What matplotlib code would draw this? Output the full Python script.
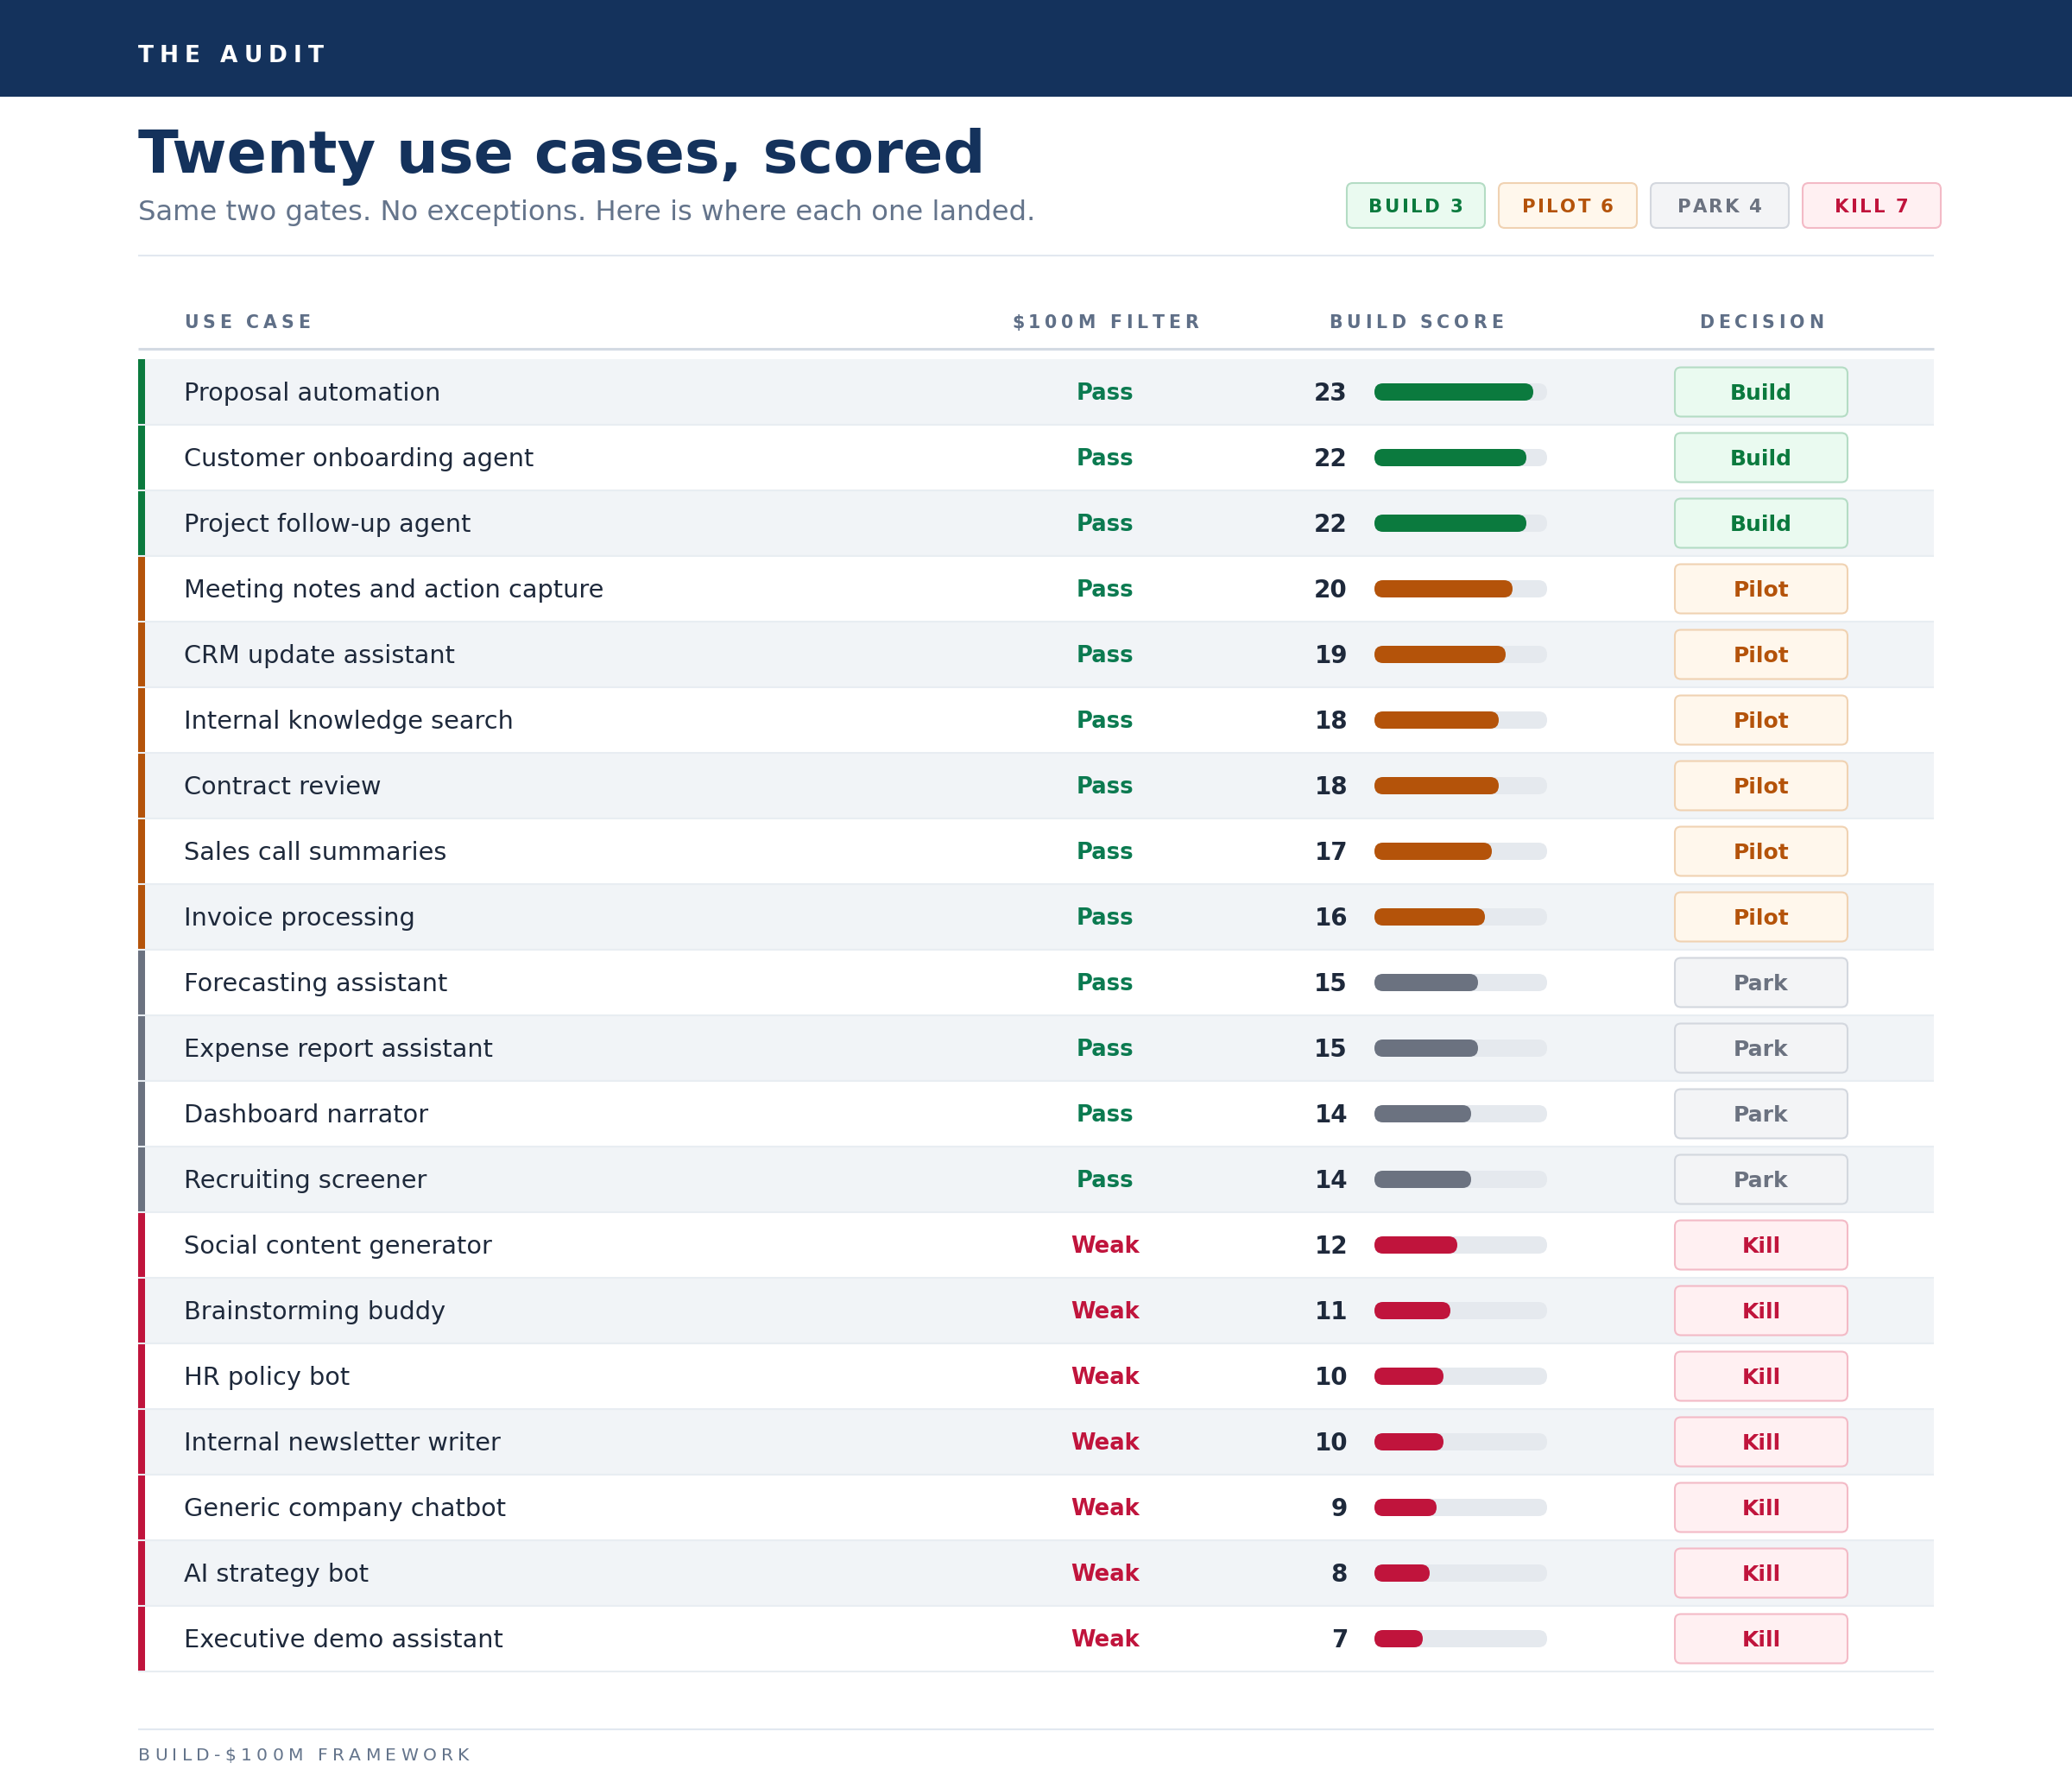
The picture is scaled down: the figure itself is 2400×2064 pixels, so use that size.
import matplotlib
matplotlib.use("Agg")
import matplotlib.pyplot as plt
from matplotlib.patches import FancyBboxPatch, Rectangle
from matplotlib.font_manager import FontProperties

# ---------------- data ----------------
use_cases = [
    "Proposal automation", "Customer onboarding agent", "Project follow-up agent",
    "Meeting notes and action capture", "CRM update assistant", "Internal knowledge search",
    "Contract review", "Sales call summaries", "Invoice processing",
    "Forecasting assistant", "Expense report assistant", "Dashboard narrator",
    "Recruiting screener", "Social content generator", "Brainstorming buddy",
    "HR policy bot", "Internal newsletter writer", "Generic company chatbot",
    "AI strategy bot", "Executive demo assistant",
]
filter_results = ["Pass"] * 13 + ["Weak"] * 7
build_scores = [23, 22, 22, 20, 19, 18, 18, 17, 16, 15, 15, 14, 14, 12, 11, 10, 10, 9, 8, 7]
decisions = ["Build"] * 3 + ["Pilot"] * 6 + ["Park"] * 4 + ["Kill"] * 7
legend_order = ["Build", "Pilot", "Park", "Kill"]
column_headers = ["USE CASE", "$100M FILTER", "BUILD SCORE", "DECISION"]
SCORE_MAX = 25

title = "Twenty use cases, scored"
subtitle = "Same two gates. No exceptions. Here is where each one landed."
kicker = "THE AUDIT"
footer = "BUILD-$100M FRAMEWORK"

# ---------------- styles ----------------
NAVY = "#14325c"
SLATE = "#64748b"
HEAD = "#5f6f87"
DARK = "#1e293b"
cat_style = {
    "Build": dict(text="#0b7a3e", fill="#eafaf0", edge="#b4dcc4", bar="#0b7a3e"),
    "Pilot": dict(text="#b4530a", fill="#fff7ec", edge="#f0d2b2", bar="#b4530a"),
    "Park": dict(text="#6b7280", fill="#f3f4f6", edge="#d3d7de", bar="#6b7280"),
    "Kill": dict(text="#c0143c", fill="#fff0f2", edge="#f3bac6", bar="#c0143c"),
}
filter_color = {"Pass": "#0b7a50", "Weak": "#c0143c"}

W, H = 2400, 2064
fig = plt.figure(figsize=(24, 20.64), dpi=100)
ax = fig.add_axes([0, 0, 1, 1])
ax.set_xlim(0, W)
ax.set_ylim(H, 0)
ax.axis("off")
renderer = fig.canvas.get_renderer()


def cap_off(size):
    return size * 100 / 72 * 0.729 / 2


def spaced(x, yc, s, size, color, weight="normal", spacing=0.0, ha="left"):
    prop = FontProperties(family="DejaVu Sans", size=size, weight=weight)
    base, _, _ = renderer.get_text_width_height_descent("||", prop, ismath=False)
    advs = []
    for c in s:
        w, _, _ = renderer.get_text_width_height_descent("|" + c + "|", prop, ismath=False)
        advs.append(w - base)
    total = sum(advs) + spacing * (len(s) - 1)
    if ha == "center":
        x = x - total / 2
    yb = yc + cap_off(size)
    for c, a in zip(s, advs):
        if c != " ":
            ax.text(x, yb, c, fontproperties=prop, color=color, ha="left", va="baseline")
        x += a + spacing


def text_c(x, yc, s, size, color, weight="normal", ha="left"):
    ax.text(x, yc + cap_off(size), s, fontsize=size, color=color, fontweight=weight,
            ha=ha, va="baseline", family="DejaVu Sans")


LEFT, RIGHT = 160, 2240

# header band
ax.add_patch(Rectangle((0, 0), W, 112, fc=NAVY, ec="none"))
spaced(LEFT, 62, kicker, 19, "white", weight="bold", spacing=7)

# title & subtitle
ax.text(LEFT, 200, title, fontsize=49.3, fontweight="bold", color=NAVY, ha="left", va="baseline")
ax.text(LEFT, 255, subtitle, fontsize=23.2, color=SLATE, ha="left", va="baseline")

# legend pills
counts = {k: decisions.count(k) for k in legend_order}
px0, pw, pgap, ptop, ph = 1560, 160, 16, 212, 52
for j, k in enumerate(legend_order):
    st = cat_style[k]
    x0 = px0 + j * (pw + pgap)
    ax.add_patch(FancyBboxPatch((x0, ptop), pw, ph, boxstyle="round,pad=0,rounding_size=7",
                                fc=st["fill"], ec=st["edge"], lw=1.5))
    spaced(x0 + pw / 2, ptop + ph / 2, f"{k.upper()} {counts[k]}", 15.3, st["text"],
           weight="bold", spacing=2.3, ha="center")

# divider
ax.plot([LEFT, RIGHT], [296, 296], color="#e2e8f0", lw=1.5, solid_capstyle="butt")

# column headers
COL_NAME_X, COL_FILTER_X, COL_SCORE_C, COL_DEC_X = 213, 1280, 1640, 2040
spaced(COL_NAME_X, 373, column_headers[0], 14.8, HEAD, weight="bold", spacing=4.8)
spaced(COL_FILTER_X, 373, column_headers[1], 14.8, HEAD, weight="bold", spacing=4.8, ha="center")
spaced(COL_SCORE_C, 373, column_headers[2], 14.8, HEAD, weight="bold", spacing=4.8, ha="center")
spaced(COL_DEC_X, 373, column_headers[3], 14.8, HEAD, weight="bold", spacing=4.8, ha="center")
ax.plot([LEFT, RIGHT], [404, 404], color="#d3dae3", lw=2.2, solid_capstyle="butt")

# rows
ROW_TOP, ROW_H = 416, 76
n = len(use_cases)
for i, (name, filt, score, dec) in enumerate(zip(use_cases, filter_results, build_scores, decisions)):
    st = cat_style[dec]
    top = ROW_TOP + i * ROW_H
    yc = top + ROW_H / 2
    if i % 2 == 0:
        ax.add_patch(Rectangle((LEFT, top), RIGHT - LEFT, ROW_H, fc="#f1f4f7", ec="none"))
    ax.add_patch(Rectangle((LEFT, top), 8, ROW_H, fc=st["bar"], ec="none", zorder=2))
    ax.plot([LEFT, RIGHT], [top + ROW_H, top + ROW_H], color="#e8edf2", lw=1.5,
            solid_capstyle="butt", zorder=3)
    text_c(COL_NAME_X, yc, name, 20.7, DARK)
    text_c(COL_FILTER_X, yc, filt, 18.6, filter_color[filt], weight="bold", ha="center")
    text_c(1561, yc, str(score), 20, DARK, weight="bold", ha="right")
    # decision pill
    bw, bh = 200, 57
    ax.add_patch(FancyBboxPatch((COL_DEC_X - bw / 2, yc - bh / 2), bw, bh,
                                boxstyle="round,pad=0,rounding_size=7",
                                fc=st["fill"], ec=st["edge"], lw=1.5, zorder=3))
    text_c(COL_DEC_X, yc, dec, 18, st["text"], weight="bold", ha="center")

# score bars in their own axes (x scale = score 0..25)
TRACK_X0, TRACK_W = 1592, 200
bax = fig.add_axes([TRACK_X0 / W, (H - (ROW_TOP + n * ROW_H)) / H, TRACK_W / W, n * ROW_H / H])
bax.set_xlim(0, SCORE_MAX)
bax.set_ylim(n, 0)
bax.axis("off")
bax.patch.set_alpha(0)
bar_px = 20
x_per_px = SCORE_MAX / TRACK_W
y_per_px = 1 / ROW_H
hh = bar_px * y_per_px
rs = (bar_px / 2) * x_per_px
ma = y_per_px / x_per_px
for i, (score, dec) in enumerate(zip(build_scores, decisions)):
    yb = i + 0.5 - hh / 2
    bax.add_patch(FancyBboxPatch((0, yb), SCORE_MAX, hh, boxstyle=f"round,pad=0,rounding_size={rs}",
                                 mutation_aspect=ma, fc="#e5e9ee", ec="none"))
    bax.add_patch(FancyBboxPatch((0, yb), score, hh, boxstyle=f"round,pad=0,rounding_size={rs}",
                                 mutation_aspect=ma, fc=cat_style[dec]["bar"], ec="none"))

# footer
ax.plot([LEFT, RIGHT], [2003, 2003], color="#e2e8f0", lw=1.5, solid_capstyle="butt")
spaced(LEFT, 2032, footer, 14.6, SLATE, weight="normal", spacing=5.3)

fig.savefig("out.png", dpi=100, facecolor="white")
